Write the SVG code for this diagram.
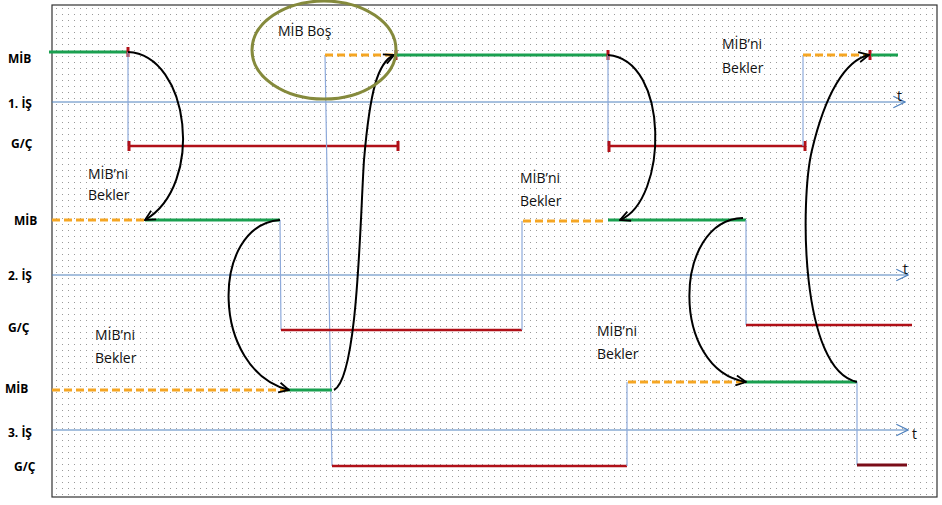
<svg xmlns="http://www.w3.org/2000/svg" width="942" height="505" viewBox="0 0 942 505">
<defs>
<pattern id="dots" width="6" height="6" patternUnits="userSpaceOnUse"><rect x="2" y="2" width="1" height="1" fill="#9a9a9a"/></pattern>
<marker id="ah" viewBox="0 0 12 12" refX="11" refY="6" markerWidth="12" markerHeight="12" markerUnits="userSpaceOnUse" orient="auto"><path d="M1,1 L11,6 L1,11" fill="none" stroke="#000" stroke-width="1.8"/></marker>
<marker id="ax" viewBox="0 0 12 12" refX="11" refY="6" markerWidth="14" markerHeight="14" markerUnits="userSpaceOnUse" orient="auto"><path d="M1,1 L11,6 L1,11" fill="none" stroke="#4f81bd" stroke-width="1"/></marker>
</defs>
<style>
.lbl{font-family:"Open Sans","Liberation Sans",sans-serif;font-weight:bold;font-size:12px;fill:#000}
.txt{font-family:"Open Sans","Liberation Sans",sans-serif;font-size:14px;fill:#111}
.axis{stroke:#4f81bd;stroke-width:1;fill:none}
.vl{stroke:#8eaadb;stroke-width:1.2;fill:none}
.g{stroke:#1aa050;stroke-width:3;fill:none}
.o{stroke:#f5a623;stroke-width:3;stroke-dasharray:8,4;fill:none}
.r{stroke:#b01018;stroke-width:2.5;fill:none}
.tick{stroke:#b01018;stroke-width:3;fill:none}
.arc{stroke:#000;stroke-width:2;fill:none;marker-end:url(#ah)}
</style>
<rect width="942" height="505" fill="#fff"/>
<rect x="52" y="5" width="885" height="492" fill="url(#dots)" stroke="#333" stroke-width="1.2"/>

<g id="labels">
<text class="lbl" x="8" y="63">MİB</text>
<text class="lbl" x="8" y="108">1. İŞ</text>
<text class="lbl" x="11" y="148">G/Ç</text>
<text class="lbl" x="14" y="225">MİB</text>
<text class="lbl" x="8" y="280">2. İŞ</text>
<text class="lbl" x="8" y="332">G/Ç</text>
<text class="lbl" x="5" y="393">MİB</text>
<text class="lbl" x="8" y="437">3. İŞ</text>
<text class="lbl" x="14" y="471">G/Ç</text>
</g>

<g id="axes">
<line class="axis" x1="52" y1="102" x2="905" y2="102" marker-end="url(#ax)"/>
<text class="txt" x="897" y="101">t</text>
<line class="axis" x1="52" y1="275" x2="908" y2="275" marker-end="url(#ax)"/>
<text class="txt" x="903" y="274">t</text>
<line class="axis" x1="52" y1="430" x2="908" y2="430" marker-end="url(#ax)"/>
<text class="txt" x="912" y="439">t</text>
</g>

<g id="job1">
<line class="g" x1="49" y1="52" x2="128" y2="52"/>
<line class="tick" x1="128" y1="47" x2="128" y2="57"/>
<line class="vl" x1="128" y1="52" x2="128" y2="146"/>
<line class="r" x1="128" y1="146" x2="398" y2="146"/>
<line class="tick" x1="129" y1="141" x2="129" y2="151"/>
<line class="tick" x1="398" y1="141" x2="398" y2="151"/>
<line class="vl" x1="325" y1="55" x2="332" y2="466"/>
<line class="o" x1="325" y1="55" x2="394" y2="55"/>
<line class="tick" x1="396" y1="50" x2="396" y2="60"/>
<line class="g" x1="397" y1="55" x2="608" y2="55"/>
<line class="tick" x1="608" y1="50" x2="608" y2="60"/>
<line class="vl" x1="608" y1="55" x2="608" y2="146"/>
<line class="r" x1="608" y1="146" x2="805" y2="146"/>
<line class="tick" x1="609" y1="141" x2="609" y2="152"/>
<line class="tick" x1="805" y1="141" x2="805" y2="151"/>
<line class="vl" x1="803" y1="55" x2="803" y2="146"/>
<line class="o" x1="803" y1="55" x2="869" y2="55"/>
<line class="tick" x1="870" y1="50" x2="870" y2="60"/>
<line class="g" x1="871" y1="55" x2="898" y2="55"/>
</g>

<g id="job2">
<line class="o" x1="52" y1="220" x2="145" y2="220"/>
<line class="g" x1="145" y1="220" x2="280" y2="220"/>
<line class="vl" x1="280" y1="220" x2="281" y2="330"/>
<line class="r" x1="281" y1="330" x2="522" y2="330"/>
<line class="vl" x1="522" y1="330" x2="522" y2="221"/>
<line class="o" x1="523" y1="221" x2="606" y2="221"/>
<line class="g" x1="608" y1="220" x2="746" y2="220"/>
<line class="vl" x1="746" y1="220" x2="746" y2="325"/>
<line class="r" x1="746" y1="325" x2="912" y2="325"/>
</g>

<g id="job3">
<line class="o" x1="52" y1="390" x2="287" y2="390"/>
<line class="g" x1="287" y1="390" x2="332" y2="390"/>
<line class="r" x1="332" y1="466" x2="627" y2="466"/>
<line class="vl" x1="627" y1="466" x2="627" y2="382"/>
<line class="o" x1="628" y1="382" x2="745" y2="382"/>
<line class="g" x1="745" y1="382" x2="857" y2="382"/>
<line class="vl" x1="857" y1="382" x2="857" y2="465"/>
<line x1="857" y1="465" x2="907" y2="465" stroke="#7a0c18" stroke-width="3"/>
</g>

<g id="connectors">
<path class="arc" d="M128,52 C190,55 205,185 145,220"/>
<path class="arc" d="M280,220 C210,225 210,370 289,390"/>
<path class="arc" d="M334,390 C358,378 360,220 364,160 C370,90 378,62 394,55"/>
<path class="arc" d="M608,55 C670,60 668,200 620,220"/>
<path class="arc" d="M743,218 C672,220 670,370 746,382"/>
<path class="arc" d="M857,382 C800,370 800,200 812,150 C825,95 845,60 869,55"/>
</g>

<g id="annotations">
<ellipse cx="324" cy="50" rx="72" ry="49" fill="none" stroke="#858a3c" stroke-width="3"/>
<text class="txt" x="278" y="36">MİB Boş</text>
<text class="txt" x="722" y="49">MİB’ni</text>
<text class="txt" x="722" y="73">Bekler</text>
<text class="txt" x="88" y="179">MİB’ni</text>
<text class="txt" x="88" y="200">Bekler</text>
<text class="txt" x="520" y="183">MİB’ni</text>
<text class="txt" x="520" y="206">Bekler</text>
<text class="txt" x="95" y="340">MİB’ni</text>
<text class="txt" x="95" y="363">Bekler</text>
<text class="txt" x="597" y="336">MİB’ni</text>
<text class="txt" x="597" y="359">Bekler</text>
</g>
</svg>
